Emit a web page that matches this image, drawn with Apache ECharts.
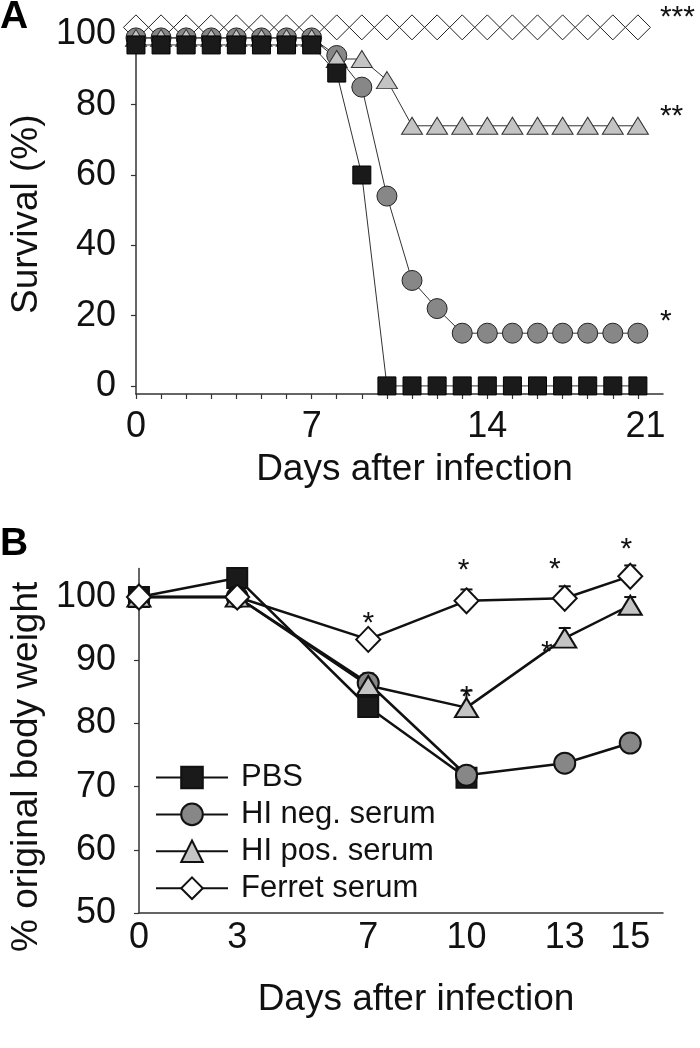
<!DOCTYPE html>
<html><head><meta charset="utf-8">
<script src="https://cdn.jsdelivr.net/npm/echarts@6/dist/echarts.min.js"></script>
<style>html,body{margin:0;padding:0;background:#fff}#c{width:700px;height:1048px}</style>
</head><body><div id="c"></div>
<script>
// ---------- Panel A: survival ----------
const daysA = [0,1,2,3,4,5,6,7,8,9,10,11,12,13,14,15,16,17,18,19,20];
const survPBS    = [97,97,97,97,97,97,97,97,89,60,0,0,0,0,0,0,0,0,0,0,0];
const survHIneg  = [99,99,99,99,99,99,99,99,94,85,54,30,22,15,15,15,15,15,15,15,15];
const survHIpos  = [99,99,99,99,99,99,99,99,93,93,87,74,74,74,74,74,74,74,74,74,74];
const survFerret = [102,102,102,102,102,102,102,102,102,102,102,102,102,102,102,102,102,102,102,102,102];
const sigA = { ferret: '***', pos: '**', neg: '*' };
const xTickLabelsA = ['0','7','14','21'];
const yTicksA = [0,20,40,60,80,100];

// ---------- Panel B: body weight ----------
const daysB = [0,3,7,10,13,15];
const wtPBS    = [100,103,82.6,71.4];
const wtHIneg  = [100,100,86.4,71.8,73.7,76.9];
const wtHIpos  = [100,100,86,82.5,93.5,98.7];
const wtFerret = [100,100,93.3,99.4,99.8,103.3];
const errHIpos  = [0,0,1.9,2.7,1.6,1.3];
const errFerret = [0,0,0,1.8,1.9,1.7];
const sigFerretDaysB = [7,10,13,15];
const sigHIposDaysB = [10,13];
const yTicksB = [50,60,70,80,90,100];
const names = ['PBS','HI neg. serum','HI pos. serum','Ferret serum'];

const FONT = "'Liberation Sans', Arial, sans-serif";
const pairs = (xs, ys) => ys.map((v,i)=>[xs[i], v]);

// star label placement (style, not data)
const starOffFerret = {7:[0,-16],10:[-3,-30],13:[-10,-29],15:[-4,-26]};
const starOffPos = {10:[0,-10],13:[-18,15]};
function withStars(xs, ys, days, offs){
  return ys.map((v,i)=>{
    const d = xs[i];
    if (days.indexOf(d) >= 0) {
      return {value:[d,v], label:{show:true, position:'inside', formatter:'*', offset:offs[d],
        fontSize:30, fontFamily:FONT, color:'#111'}};
    }
    return [d,v];
  });
}
function errData(xs, ys, es){
  const out=[]; ys.forEach((v,i)=>{ if(es[i]>0) out.push([xs[i], v, es[i]]); }); return out;
}
function errRender(params, api){
  const x=api.value(0), y=api.value(1), e=api.value(2);
  const p0=api.coord([x,y]), p1=api.coord([x,y+e]);
  return {type:'group', children:[
    {type:'line', shape:{x1:p0[0],y1:p0[1],x2:p1[0],y2:p1[1]}, style:{stroke:'#111',lineWidth:2}},
    {type:'line', shape:{x1:p1[0]-6,y1:p1[1],x2:p1[0]+6,y2:p1[1]}, style:{stroke:'#111',lineWidth:2}}
  ]};
}

const labelPosA = [0,7,14,20.3];
const axisText = {fontSize:36, fontFamily:FONT, color:'#111'};
const nameText = {fontSize:37, fontFamily:FONT, color:'#111'};

const lineA = {color:'#333', width:1};
const lineB = {color:'#111', width:2.5};

const option = {
  animation:false,
  backgroundColor:'#fff',
  title:[
    {text:'A', left:0, top:-2, padding:0, textStyle:{fontSize:39, fontWeight:'bold', fontFamily:FONT, color:'#000'}},
    {text:'B', left:0, top:525, padding:0, textStyle:{fontSize:39, fontWeight:'bold', fontFamily:FONT, color:'#000'}}
  ],
  legend:{
    data:names, orient:'vertical', left:150, top:757,
    itemWidth:72, itemHeight:27, itemGap:5.9, selectedMode:false,
    textStyle:{fontSize:31, fontFamily:FONT, color:'#111', padding:[0,0,0,8], lineHeight:27}
  },
  grid:[
    {left:133, top:34.4, width:530, height:359.6},
    {left:133, top:568.6, width:530, height:344.4}
  ],
  xAxis:[
    {gridIndex:0, type:'value', min:0, max:21,
     name:'Days after infection', nameLocation:'middle', nameGap:57,
     nameTextStyle:Object.assign({padding:[0,0,0,30]}, nameText),
     axisLine:{show:true, onZero:false, lineStyle:{color:'#333', width:1.5}},
     axisTick:{show:true, length:5, customValues:daysA, lineStyle:{color:'#333', width:1.2}},
     axisLabel:Object.assign({customValues:labelPosA, margin:15,
        formatter:v=>xTickLabelsA[labelPosA.indexOf(v)]}, axisText),
     splitLine:{show:false}},
    {gridIndex:1, type:'value', min:0, max:16,
     name:'Days after infection', nameLocation:'middle', nameGap:68,
     nameTextStyle:Object.assign({padding:[0,0,0,30]}, nameText),
     axisLine:{show:true, onZero:false, lineStyle:{color:'#333', width:1.5}},
     axisTick:{show:false},
     axisLabel:Object.assign({customValues:daysB, margin:7}, axisText),
     splitLine:{show:false}}
  ],
  yAxis:[
    {gridIndex:0, type:'value', min:-2.3, max:100,
     name:'Survival (%)', nameLocation:'middle', nameGap:90, nameRotate:90,
     nameTextStyle:nameText,
     axisLine:{show:true, onZero:false, lineStyle:{color:'#333', width:1.5}},
     axisTick:{show:true, length:5, customValues:yTicksA, lineStyle:{color:'#333', width:1.2}},
     axisLabel:Object.assign({customValues:yTicksA, margin:20}, axisText),
     splitLine:{show:false}},
    {gridIndex:1, type:'value', min:50, max:104.5,
     name:'% original body weight', nameLocation:'middle', nameGap:90, nameRotate:90,
     nameTextStyle:Object.assign({padding:[0,52,0,0]}, nameText),
     axisLine:{show:true, onZero:false, lineStyle:{color:'#333', width:1.5}},
     axisTick:{show:true, length:5, customValues:yTicksB, lineStyle:{color:'#333', width:1.2}},
     axisLabel:Object.assign({customValues:yTicksB, margin:23}, axisText),
     splitLine:{show:false}}
  ],
  series:[
    // Panel A
    {name:'A Ferret', type:'line', xAxisIndex:0, yAxisIndex:0, data:pairs(daysA, survFerret),
     symbol:'diamond', symbolSize:25, showAllSymbol:true, clip:false,
     itemStyle:{color:'#fff', borderColor:'#222', borderWidth:1}, lineStyle:lineA,
     endLabel:{show:true, formatter:sigA.ferret, distance:22, offset:[0,-10], fontSize:30, fontFamily:FONT, color:'#111'}},
    {name:'A HIneg', type:'line', xAxisIndex:0, yAxisIndex:0, data:pairs(daysA, survHIneg),
     symbol:'circle', symbolSize:20, showAllSymbol:true, clip:false,
     itemStyle:{color:'#878787', borderColor:'#222', borderWidth:1}, lineStyle:lineA,
     endLabel:{show:true, formatter:sigA.neg, distance:22, offset:[0,-11], fontSize:30, fontFamily:FONT, color:'#111'}},
    {name:'A HIpos', type:'line', xAxisIndex:0, yAxisIndex:0, data:pairs(daysA, survHIpos),
     symbol:'triangle', symbolSize:[21,17], showAllSymbol:true, clip:false,
     itemStyle:{color:'#c4c4c4', borderColor:'#333', borderWidth:1}, lineStyle:lineA,
     endLabel:{show:true, formatter:sigA.pos, distance:22, offset:[0,-9], fontSize:30, fontFamily:FONT, color:'#111'}},
    {name:'A PBS', type:'line', xAxisIndex:0, yAxisIndex:0, data:pairs(daysA, survPBS),
     symbol:'rect', symbolSize:18, showAllSymbol:true, clip:false,
     itemStyle:{color:'#1a1a1a', borderColor:'#000', borderWidth:1}, lineStyle:lineA},
    // Panel B error bars
    {name:'errB', type:'custom', xAxisIndex:1, yAxisIndex:1, z:1, renderItem:errRender,
     data:errData(daysB, wtHIpos, errHIpos).concat(errData(daysB, wtFerret, errFerret))},
    // Panel B
    {name:names[0], type:'line', xAxisIndex:1, yAxisIndex:1, data:pairs(daysB, wtPBS),
     symbol:'rect', symbolSize:20, showAllSymbol:true, clip:false,
     itemStyle:{color:'#1a1a1a', borderColor:'#111', borderWidth:2}, lineStyle:lineB},
    {name:names[1], type:'line', xAxisIndex:1, yAxisIndex:1, data:pairs(daysB, wtHIneg),
     symbol:'circle', symbolSize:21, showAllSymbol:true, clip:false,
     itemStyle:{color:'#878787', borderColor:'#111', borderWidth:2}, lineStyle:lineB},
    {name:names[2], type:'line', xAxisIndex:1, yAxisIndex:1,
     data:withStars(daysB, wtHIpos, sigHIposDaysB, starOffPos),
     symbol:'triangle', symbolSize:[23,19], showAllSymbol:true, clip:false,
     itemStyle:{color:'#c4c4c4', borderColor:'#111', borderWidth:2}, lineStyle:lineB},
    {name:names[3], type:'line', xAxisIndex:1, yAxisIndex:1,
     data:withStars(daysB, wtFerret, sigFerretDaysB, starOffFerret),
     symbol:'diamond', symbolSize:[24,25], showAllSymbol:true, clip:false,
     itemStyle:{color:'#fff', borderColor:'#111', borderWidth:2}, lineStyle:lineB}
  ]
};
const chart = echarts.init(document.getElementById('c'), null, {renderer:'canvas'});
chart.setOption(option);
</script></body></html>
